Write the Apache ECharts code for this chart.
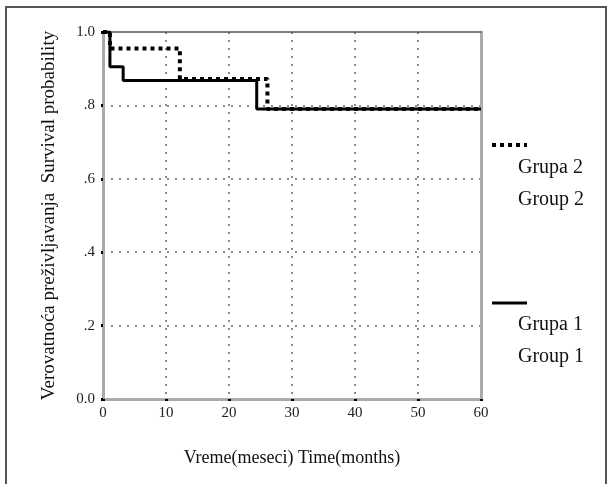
<!DOCTYPE html>
<html>
<head>
<meta charset="utf-8">
<script src="https://cdn.jsdelivr.net/npm/echarts@6/dist/echarts.min.js"></script>
<style>
  html, body { margin: 0; padding: 0; background: #fff; }
  #chart { width: 612px; height: 484px; }
</style>
</head>
<body>
<div id="chart"></div>
<script>
// Kaplan-Meier steps, [month, survival]
const group1 = [[0, 1], [1.1, 0.905], [3.2, 0.868], [24.4, 0.79], [60, 0.79]]
const group2 = [[0, 1], [1.1, 0.955], [12.2, 0.872], [26.1, 0.79], [60, 0.79]]
const xTicks = [0, 10, 20, 30, 40, 50, 60]
const yTickLabels = { 0: '0.0', 0.2: '.2', 0.4: '.4', 0.6: '.6', 0.8: '.8', 1: '1.0' }

const serif = '"Liberation Serif", "Times New Roman", serif'
const chart = echarts.init(document.getElementById('chart'))

const gridDots = { color: '#888', width: 2, type: [2, 6] }

chart.setOption({
  backgroundColor: '#fff',
  animation: false,
  grid: { left: 103, right: 131, top: 32, bottom: 85 },
  xAxis: [{
    type: 'value',
    min: xTicks[0],
    max: xTicks[xTicks.length - 1],
    interval: 10,
    name: 'Vreme(meseci) Time(months)',
    nameLocation: 'middle',
    nameGap: 50,
    nameTextStyle: { fontFamily: serif, fontSize: 18, color: '#111' },
    axisLine: { onZero: false, lineStyle: { color: '#aaa', width: 3 } },
    axisTick: { show: true, length: 2, lineStyle: { color: '#000', width: 3 } },
    axisLabel: { fontFamily: serif, fontSize: 15, color: '#222', margin: 7 },
    splitLine: { show: true, showMinLine: false, showMaxLine: false, lineStyle: gridDots }
  }, {
    type: 'value',
    position: 'top',
    min: 0,
    max: 60,
    axisLine: { show: true, onZero: false, lineStyle: { color: '#555', width: 1.5 } },
    axisTick: { show: false },
    axisLabel: { show: false },
    splitLine: { show: false }
  }],
  yAxis: [{
    type: 'value',
    min: 0,
    max: 1,
    interval: 0.2,
    name: 'Verovatnoća preživljavanja  Survival probability',
    nameLocation: 'middle',
    nameGap: 44,
    nameTextStyle: { fontFamily: serif, fontSize: 19, color: '#111' },
    axisLine: { show: true, onZero: false, lineStyle: { color: '#aaa', width: 3 } },
    axisTick: { show: true, length: 2, lineStyle: { color: '#000', width: 3 } },
    axisLabel: {
      fontFamily: serif, fontSize: 15, color: '#222', margin: 8,
      formatter(v) {
        return yTickLabels[Math.round(v * 10) / 10]
      }
    },
    splitLine: { show: true, showMinLine: false, showMaxLine: false, lineStyle: gridDots }
  }, {
    type: 'value',
    position: 'right',
    min: 0,
    max: 1,
    axisLine: { show: true, onZero: false, lineStyle: { color: '#aaa', width: 3 } },
    axisTick: { show: false },
    axisLabel: { show: false },
    splitLine: { show: false }
  }],
  series: [{
    name: 'Group 1',
    type: 'line',
    step: 'end',
    symbol: 'none',
    lineStyle: { color: '#000', width: 3 },
    data: group1,
    z: 3
  }, {
    name: 'Group 2',
    type: 'line',
    step: 'end',
    symbol: 'none',
    lineStyle: { color: '#000', width: 4, type: [4, 4], cap: 'butt' },
    data: group2,
    z: 4
  }],
  graphic: [
    // outer frame
    { type: 'rect', shape: { x: 6, y: 7, width: 600, height: 495 },
      style: { fill: 'none', stroke: '#555', lineWidth: 2 }, silent: true },
    // legend
    { type: 'line', shape: { x1: 492, y1: 145, x2: 527, y2: 145 },
      style: { stroke: '#000', lineWidth: 4, lineDash: [4, 4] } },
    { type: 'text', left: 518, top: 158,
      style: { text: 'Grupa 2', font: '20px ' + serif, fill: '#111' } },
    { type: 'text', left: 518, top: 190,
      style: { text: 'Group 2', font: '20px ' + serif, fill: '#111' } },
    { type: 'line', shape: { x1: 492, y1: 303, x2: 527, y2: 303 },
      style: { stroke: '#000', lineWidth: 3 } },
    { type: 'text', left: 518, top: 315,
      style: { text: 'Grupa 1', font: '20px ' + serif, fill: '#111' } },
    { type: 'text', left: 518, top: 347,
      style: { text: 'Group 1', font: '20px ' + serif, fill: '#111' } }
  ]
})
</script>
</body>
</html>
